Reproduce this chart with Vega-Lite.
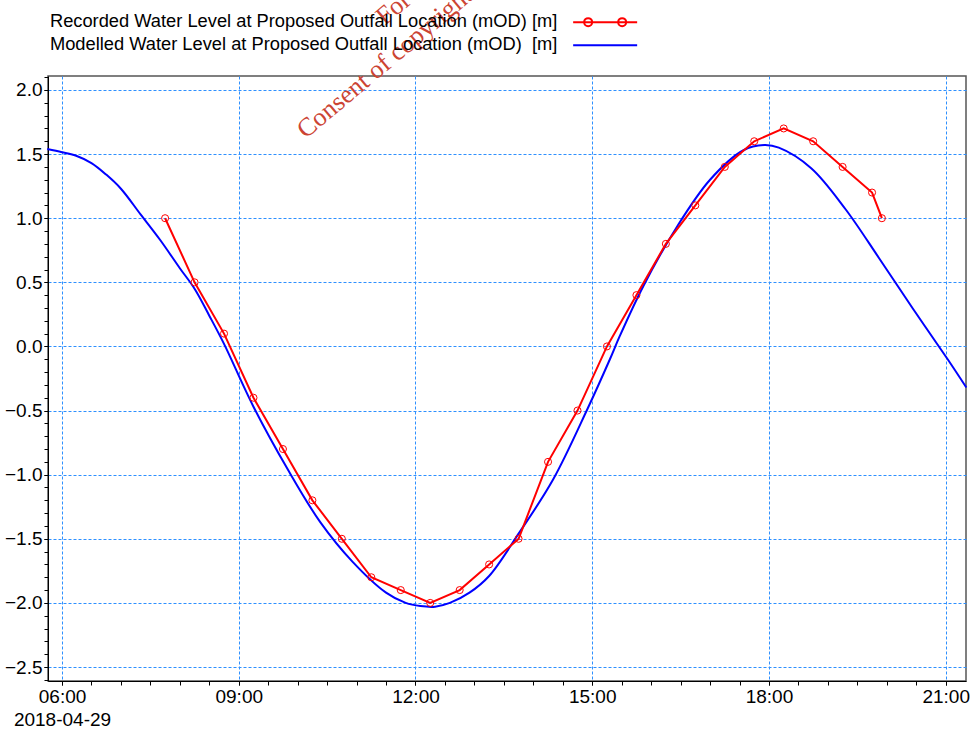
{
  "$schema": "https://vega.github.io/schema/vega-lite/v6.json",
  "width": 918,
  "height": 605,
  "autosize": {"type": "none"},
  "padding": {"left": 48, "top": 76, "right": 6, "bottom": 48},
  "background": "white",
  "config": {
    "font": "Liberation Sans",
    "view": {"stroke": "#555555", "strokeWidth": 1.5}
  },
  "resolve": {"axis": {"x": "independent", "y": "independent"}},
  "datasets": {
    "recorded": [
      {"time": "2018-04-29T07:45:00", "value": 1.0, "series": "Recorded"},
      {"time": "2018-04-29T08:15:00", "value": 0.5, "series": "Recorded"},
      {"time": "2018-04-29T08:45:00", "value": 0.1, "series": "Recorded"},
      {"time": "2018-04-29T09:15:00", "value": -0.4, "series": "Recorded"},
      {"time": "2018-04-29T09:45:00", "value": -0.8, "series": "Recorded"},
      {"time": "2018-04-29T10:15:00", "value": -1.2, "series": "Recorded"},
      {"time": "2018-04-29T10:45:00", "value": -1.5, "series": "Recorded"},
      {"time": "2018-04-29T11:15:00", "value": -1.8, "series": "Recorded"},
      {"time": "2018-04-29T11:45:00", "value": -1.9, "series": "Recorded"},
      {"time": "2018-04-29T12:15:00", "value": -2.0, "series": "Recorded"},
      {"time": "2018-04-29T12:45:00", "value": -1.9, "series": "Recorded"},
      {"time": "2018-04-29T13:15:00", "value": -1.7, "series": "Recorded"},
      {"time": "2018-04-29T13:45:00", "value": -1.5, "series": "Recorded"},
      {"time": "2018-04-29T14:15:00", "value": -0.9, "series": "Recorded"},
      {"time": "2018-04-29T14:45:00", "value": -0.5, "series": "Recorded"},
      {"time": "2018-04-29T15:15:00", "value": 0.0, "series": "Recorded"},
      {"time": "2018-04-29T15:45:00", "value": 0.4, "series": "Recorded"},
      {"time": "2018-04-29T16:15:00", "value": 0.8, "series": "Recorded"},
      {"time": "2018-04-29T16:45:00", "value": 1.1, "series": "Recorded"},
      {"time": "2018-04-29T17:15:00", "value": 1.4, "series": "Recorded"},
      {"time": "2018-04-29T17:45:00", "value": 1.6, "series": "Recorded"},
      {"time": "2018-04-29T18:15:00", "value": 1.7, "series": "Recorded"},
      {"time": "2018-04-29T18:45:00", "value": 1.6, "series": "Recorded"},
      {"time": "2018-04-29T19:15:00", "value": 1.4, "series": "Recorded"},
      {"time": "2018-04-29T19:45:00", "value": 1.2, "series": "Recorded"},
      {"time": "2018-04-29T19:55:00", "value": 1.0, "series": "Recorded"}
    ],
    "modelled": [
      {"time": "2018-04-29T05:45:00", "value": 1.54, "series": "Modelled"},
      {"time": "2018-04-29T06:00:00", "value": 1.515, "series": "Modelled"},
      {"time": "2018-04-29T06:15:00", "value": 1.485, "series": "Modelled"},
      {"time": "2018-04-29T06:30:00", "value": 1.43, "series": "Modelled"},
      {"time": "2018-04-29T06:45:00", "value": 1.34, "series": "Modelled"},
      {"time": "2018-04-29T07:00:00", "value": 1.23, "series": "Modelled"},
      {"time": "2018-04-29T07:20:00", "value": 1.03, "series": "Modelled"},
      {"time": "2018-04-29T07:40:00", "value": 0.83, "series": "Modelled"},
      {"time": "2018-04-29T08:00:00", "value": 0.61, "series": "Modelled"},
      {"time": "2018-04-29T08:15:00", "value": 0.45, "series": "Modelled"},
      {"time": "2018-04-29T08:30:00", "value": 0.24, "series": "Modelled"},
      {"time": "2018-04-29T08:45:00", "value": 0.02, "series": "Modelled"},
      {"time": "2018-04-29T09:15:00", "value": -0.47, "series": "Modelled"},
      {"time": "2018-04-29T09:50:00", "value": -0.96, "series": "Modelled"},
      {"time": "2018-04-29T10:23:00", "value": -1.37, "series": "Modelled"},
      {"time": "2018-04-29T10:56:00", "value": -1.68, "series": "Modelled"},
      {"time": "2018-04-29T11:30:00", "value": -1.92, "series": "Modelled"},
      {"time": "2018-04-29T11:50:00", "value": -2.0, "series": "Modelled"},
      {"time": "2018-04-29T12:05:00", "value": -2.025, "series": "Modelled"},
      {"time": "2018-04-29T12:20:00", "value": -2.03, "series": "Modelled"},
      {"time": "2018-04-29T12:35:00", "value": -2.0, "series": "Modelled"},
      {"time": "2018-04-29T12:55:00", "value": -1.92, "series": "Modelled"},
      {"time": "2018-04-29T13:15:00", "value": -1.79, "series": "Modelled"},
      {"time": "2018-04-29T13:45:00", "value": -1.46, "series": "Modelled"},
      {"time": "2018-04-29T14:20:00", "value": -1.04, "series": "Modelled"},
      {"time": "2018-04-29T14:55:00", "value": -0.49, "series": "Modelled"},
      {"time": "2018-04-29T15:18:00", "value": -0.1, "series": "Modelled"},
      {"time": "2018-04-29T15:28:00", "value": 0.08, "series": "Modelled"},
      {"time": "2018-04-29T15:52:00", "value": 0.47, "series": "Modelled"},
      {"time": "2018-04-29T16:26:00", "value": 0.93, "series": "Modelled"},
      {"time": "2018-04-29T17:00:00", "value": 1.3, "series": "Modelled"},
      {"time": "2018-04-29T17:34:00", "value": 1.53, "series": "Modelled"},
      {"time": "2018-04-29T17:55:00", "value": 1.57, "series": "Modelled"},
      {"time": "2018-04-29T18:10:00", "value": 1.55, "series": "Modelled"},
      {"time": "2018-04-29T18:43:00", "value": 1.39, "series": "Modelled"},
      {"time": "2018-04-29T19:18:00", "value": 1.07, "series": "Modelled"},
      {"time": "2018-04-29T19:52:00", "value": 0.69, "series": "Modelled"},
      {"time": "2018-04-29T20:27:00", "value": 0.29, "series": "Modelled"},
      {"time": "2018-04-29T21:02:00", "value": -0.1, "series": "Modelled"},
      {"time": "2018-04-29T21:21:00", "value": -0.32, "series": "Modelled"}
    ],
    "watermark": [
      {"time": "2018-04-29T13:28:00", "value": 3.265, "note": "For inspection purposes only."}
    ]
  },
  "layer": [
    {
      "data": {"name": "modelled"},
      "mark": {"type": "line", "strokeWidth": 2, "interpolate": "catmull-rom"},
      "encoding": {
        "x": {
          "field": "time",
          "type": "temporal",
          "scale": {
            "domain": [
              {"year": 2018, "month": 4, "date": 29, "hours": 5, "minutes": 45, "seconds": 44},
              {"year": 2018, "month": 4, "date": 29, "hours": 21, "minutes": 20, "seconds": 40}
            ],
            "nice": false
          },
          "axis": {
            "orient": "bottom",
            "title": "2018-04-29",
            "titleX": 14,
            "titleY": 29,
            "titleAlign": "center",
            "titleBaseline": "top",
            "titleAngle": 0,
            "titleFontSize": 19,
            "titleFontWeight": "normal",
            "titleColor": "black",
            "values": [
              {"year": 2018, "month": 4, "date": 29, "hours": 6, "minutes": 0},
              {"year": 2018, "month": 4, "date": 29, "hours": 9, "minutes": 0},
              {"year": 2018, "month": 4, "date": 29, "hours": 12, "minutes": 0},
              {"year": 2018, "month": 4, "date": 29, "hours": 15, "minutes": 0},
              {"year": 2018, "month": 4, "date": 29, "hours": 18, "minutes": 0},
              {"year": 2018, "month": 4, "date": 29, "hours": 21, "minutes": 0}
            ],
            "format": "%H:%M",
            "labelFontSize": 19,
            "labelColor": "black",
            "labelPadding": 2,
            "labelOverlap": false,
            "labelFlush": false,
            "labelBaseline": "top",
            "tickSize": 4,
            "tickColor": "black",
            "domainColor": "black",
            "domainWidth": 1,
            "grid": true,
            "gridColor": "#2e90ff",
            "gridDash": [3, 2],
            "gridWidth": 1
          }
        },
        "y": {
          "field": "value",
          "type": "quantitative",
          "scale": {"domain": [-2.609, 2.109], "nice": false, "zero": false},
          "axis": {
            "orient": "left",
            "title": null,
            "values": [-2.5, -2.0, -1.5, -1.0, -0.5, 0, 0.5, 1.0, 1.5, 2.0],
            "format": ".1f",
            "labelFontSize": 19,
            "labelColor": "black",
            "labelPadding": 2,
            "labelOverlap": false,
            "labelFlush": false,
            "tickSize": 4,
            "tickColor": "black",
            "domainColor": "black",
            "domainWidth": 1,
            "grid": true,
            "gridColor": "#2e90ff",
            "gridDash": [3, 2],
            "gridWidth": 1
          }
        },
        "color": {
          "field": "series",
          "type": "nominal",
          "scale": {"domain": ["Recorded", "Modelled"], "range": ["#ff0000", "#0000ff"]},
          "legend": {
            "orient": "none",
            "legendX": 548,
            "legendY": -63,
            "title": null,
            "labelFontSize": 18.3,
            "labelColor": "black",
            "labelLimit": 700,
            "labelAlign": "right",
            "labelOffset": -57,
            "rowPadding": 4,
            "symbolSize": 100,
            "symbolStrokeWidth": 2,
            "symbolFillColor": "transparent",
            "symbolType": {"expr": "datum.value == 'Recorded' ? 'M-6.4,0H6.4M-2.6,0A0.8,0.8 0 1,1 -4.2,0A0.8,0.8 0 1,1 -2.6,0M4.2,0A0.8,0.8 0 1,1 2.6,0A0.8,0.8 0 1,1 4.2,0' : 'M-6.4,0H6.4'"},
            "labelExpr": "datum.value == 'Recorded' ? 'Recorded Water Level at Proposed Outfall Location (mOD) [m]' : 'Modelled Water Level at Proposed Outfall Location (mOD)\u00a0 [m]'"
          }
        }
      }
    },
    {
      "data": {"name": "recorded"},
      "mark": {"type": "line", "strokeWidth": 2},
      "encoding": {
        "x": {
          "field": "time",
          "type": "temporal",
          "scale": {
            "domain": [
              {"year": 2018, "month": 4, "date": 29, "hours": 5, "minutes": 45, "seconds": 44},
              {"year": 2018, "month": 4, "date": 29, "hours": 21, "minutes": 20, "seconds": 40}
            ],
            "nice": false
          },
          "axis": null
        },
        "y": {
          "field": "value",
          "type": "quantitative",
          "scale": {"domain": [-2.609, 2.109], "nice": false, "zero": false},
          "axis": null
        },
        "color": {"field": "series", "type": "nominal"}
      }
    },
    {
      "data": {"name": "recorded"},
      "mark": {"type": "point", "filled": false, "size": 50, "color": "#ff0000", "strokeWidth": 1, "opacity": 1},
      "encoding": {
        "x": {
          "field": "time",
          "type": "temporal",
          "scale": {
            "domain": [
              {"year": 2018, "month": 4, "date": 29, "hours": 5, "minutes": 45, "seconds": 44},
              {"year": 2018, "month": 4, "date": 29, "hours": 21, "minutes": 20, "seconds": 40}
            ],
            "nice": false
          },
          "axis": {
            "orient": "bottom",
            "title": null,
            "labels": false,
            "grid": false,
            "domain": false,
            "ticks": true,
            "tickSize": 4,
            "tickColor": "black",
            "values": [
              {"year": 2018, "month": 4, "date": 29, "hours": 6, "minutes": 0},
              {"year": 2018, "month": 4, "date": 29, "hours": 6, "minutes": 30},
              {"year": 2018, "month": 4, "date": 29, "hours": 7, "minutes": 0},
              {"year": 2018, "month": 4, "date": 29, "hours": 7, "minutes": 30},
              {"year": 2018, "month": 4, "date": 29, "hours": 8, "minutes": 0},
              {"year": 2018, "month": 4, "date": 29, "hours": 8, "minutes": 30},
              {"year": 2018, "month": 4, "date": 29, "hours": 9, "minutes": 0},
              {"year": 2018, "month": 4, "date": 29, "hours": 9, "minutes": 30},
              {"year": 2018, "month": 4, "date": 29, "hours": 10, "minutes": 0},
              {"year": 2018, "month": 4, "date": 29, "hours": 10, "minutes": 30},
              {"year": 2018, "month": 4, "date": 29, "hours": 11, "minutes": 0},
              {"year": 2018, "month": 4, "date": 29, "hours": 11, "minutes": 30},
              {"year": 2018, "month": 4, "date": 29, "hours": 12, "minutes": 0},
              {"year": 2018, "month": 4, "date": 29, "hours": 12, "minutes": 30},
              {"year": 2018, "month": 4, "date": 29, "hours": 13, "minutes": 0},
              {"year": 2018, "month": 4, "date": 29, "hours": 13, "minutes": 30},
              {"year": 2018, "month": 4, "date": 29, "hours": 14, "minutes": 0},
              {"year": 2018, "month": 4, "date": 29, "hours": 14, "minutes": 30},
              {"year": 2018, "month": 4, "date": 29, "hours": 15, "minutes": 0},
              {"year": 2018, "month": 4, "date": 29, "hours": 15, "minutes": 30},
              {"year": 2018, "month": 4, "date": 29, "hours": 16, "minutes": 0},
              {"year": 2018, "month": 4, "date": 29, "hours": 16, "minutes": 30},
              {"year": 2018, "month": 4, "date": 29, "hours": 17, "minutes": 0},
              {"year": 2018, "month": 4, "date": 29, "hours": 17, "minutes": 30},
              {"year": 2018, "month": 4, "date": 29, "hours": 18, "minutes": 0},
              {"year": 2018, "month": 4, "date": 29, "hours": 18, "minutes": 30},
              {"year": 2018, "month": 4, "date": 29, "hours": 19, "minutes": 0},
              {"year": 2018, "month": 4, "date": 29, "hours": 19, "minutes": 30},
              {"year": 2018, "month": 4, "date": 29, "hours": 20, "minutes": 0},
              {"year": 2018, "month": 4, "date": 29, "hours": 20, "minutes": 30},
              {"year": 2018, "month": 4, "date": 29, "hours": 21, "minutes": 0}
            ]
          }
        },
        "y": {
          "field": "value",
          "type": "quantitative",
          "scale": {"domain": [-2.609, 2.109], "nice": false, "zero": false},
          "axis": {
            "orient": "left",
            "title": null,
            "labels": false,
            "grid": false,
            "domain": false,
            "ticks": true,
            "tickSize": 4,
            "tickColor": "black",
            "values": [-2.6, -2.5, -2.4, -2.3, -2.2, -2.1, -2.0, -1.9, -1.8, -1.7, -1.6, -1.5, -1.4, -1.3, -1.2, -1.1, -1.0, -0.9, -0.8, -0.7, -0.6, -0.5, -0.4, -0.3, -0.2, -0.1, 0, 0.1, 0.2, 0.3, 0.4, 0.5, 0.6, 0.7, 0.8, 0.9, 1.0, 1.1, 1.2, 1.3, 1.4, 1.5, 1.6, 1.7, 1.8, 1.9, 2.0, 2.1]
          }
        }
      }
    },
    {
      "data": {"name": "watermark"},
      "mark": {
        "type": "text",
        "text": ["For inspection purposes only.", "Consent of copyright owner required for any other use."],
        "font": "Liberation Serif",
        "fontSize": 26,
        "lineHeight": 36,
        "angle": -40,
        "align": "center",
        "baseline": "alphabetic",
        "color": "#cc4433"
      },
      "encoding": {
        "x": {
          "field": "time",
          "type": "temporal",
          "scale": {
            "domain": [
              {"year": 2018, "month": 4, "date": 29, "hours": 5, "minutes": 45, "seconds": 44},
              {"year": 2018, "month": 4, "date": 29, "hours": 21, "minutes": 20, "seconds": 40}
            ],
            "nice": false
          },
          "axis": null
        },
        "y": {
          "field": "value",
          "type": "quantitative",
          "scale": {"domain": [-2.609, 2.109], "nice": false, "zero": false},
          "axis": null
        }
      }
    }
  ]
}
